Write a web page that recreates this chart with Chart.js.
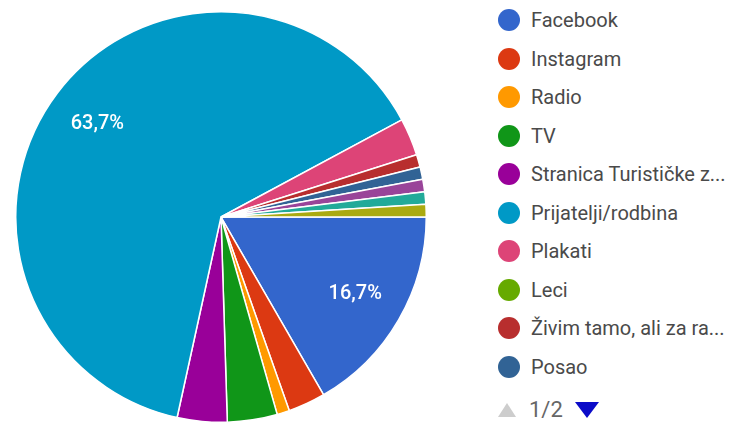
<!DOCTYPE html>
<html>
<head>
<meta charset="utf-8">
<script src="https://cdn.jsdelivr.net/npm/chart.js@4/dist/chart.umd.min.js"></script>
<style>
  html, body { margin: 0; padding: 0; background: #fff; width: 753px; height: 426px; overflow: hidden; font-family: Roboto, Arial, sans-serif; }
  #pieWrap { position: absolute; left: 15px; top: 11px; width: 412px; height: 412px; }
  #legend { position: absolute; left: 0; top: 0; }
  .item { position: absolute; left: 498px; height: 24px; display: flex; align-items: center; white-space: nowrap; }
  .dot { width: 22px; height: 22px; border-radius: 50%; margin-right: 11px; }
  .txt { font-size: 20px; color: #4a4a4a; }
  .triUp { position: absolute; left: 498px; top: 403px; width: 0; height: 0; border-left: 9.5px solid transparent; border-right: 9.5px solid transparent; border-bottom: 14px solid #cdcdcd; }
  .triDown { position: absolute; left: 575px; top: 402px; width: 0; height: 0; border-left: 12px solid transparent; border-right: 12px solid transparent; border-top: 16px solid #0b0bc8; }
  #pageTxt { position: absolute; left: 529px; top: 398px; font-size: 22px; color: #666; line-height: 24px; }
</style>
</head>
<body>
<div id="pieWrap"><canvas id="c" width="412" height="412"></canvas></div>
<div id="legend"></div>
<div class="triUp"></div>
<div id="pageTxt">1/2</div>
<div class="triDown"></div>
<script>
// ---- data ----
const categories = [
  'Facebook', 'Instagram', 'Radio', 'TV', 'Stranica Turističke z...',
  'Prijatelji/rodbina', 'Plakati', 'Leci', 'Živim tamo, ali za ra...', 'Posao',
  'Ostalo (1)', 'Ostalo (2)', 'Ostalo (3)'
];
const responses = [17, 3, 1, 4, 4, 65, 3, 0, 1, 1, 1, 1, 1];
const sliceColors = [
  '#3366CC', '#DC3912', '#FF9900', '#109618', '#990099',
  '#0099C6', '#DD4477', '#66AA00', '#B82E2E', '#316395',
  '#994499', '#22AA99', '#AAAA11'
];
const legendPageSize = 10;

// ---- legend (page 1 of 2) ----
const legendEl = document.getElementById('legend');
categories.slice(0, legendPageSize).forEach((name, i) => {
  const row = document.createElement('div');
  row.className = 'item';
  row.style.top = (8 + i * 38.5) + 'px';
  const d = document.createElement('div');
  d.className = 'dot';
  d.style.background = sliceColors[i];
  const t = document.createElement('span');
  t.className = 'txt';
  t.textContent = name;
  row.appendChild(d); row.appendChild(t);
  legendEl.appendChild(row);
});

// ---- percentage labels plugin ----
const pctLabels = {
  id: 'pctLabels',
  afterDatasetsDraw(chart) {
    const ctx = chart.ctx;
    const meta = chart.getDatasetMeta(0);
    const data = chart.data.datasets[0].data;
    const total = data.reduce((a, b) => a + b, 0);
    ctx.save();
    ctx.fillStyle = '#ffffff';
    ctx.font = '500 20px Roboto, Arial, sans-serif';
    ctx.textAlign = 'center';
    ctx.textBaseline = 'middle';
    meta.data.forEach((arc, i) => {
      const pct = data[i] / total * 100;
      if (pct < 10) return;
      const p = arc.getProps(['x', 'y', 'startAngle', 'endAngle', 'outerRadius'], true);
      const mid = (p.startAngle + p.endAngle) / 2;
      const r = p.outerRadius * 0.755;
      const txt = pct.toFixed(1).replace('.', ',') + '%';
      ctx.fillText(txt, p.x + Math.cos(mid) * r, p.y + Math.sin(mid) * r);
    });
    ctx.restore();
  }
};

new Chart(document.getElementById('c'), {
  type: 'pie',
  data: {
    labels: categories,
    datasets: [{
      data: responses,
      backgroundColor: sliceColors,
      borderColor: '#ffffff',
      borderWidth: 1.5
    }]
  },
  options: {
    responsive: false,
    animation: false,
    rotation: 90,
    layout: { padding: 0 },
    plugins: {
      legend: { display: false },
      tooltip: { enabled: false }
    }
  },
  plugins: [pctLabels]
});
</script>
</body>
</html>
